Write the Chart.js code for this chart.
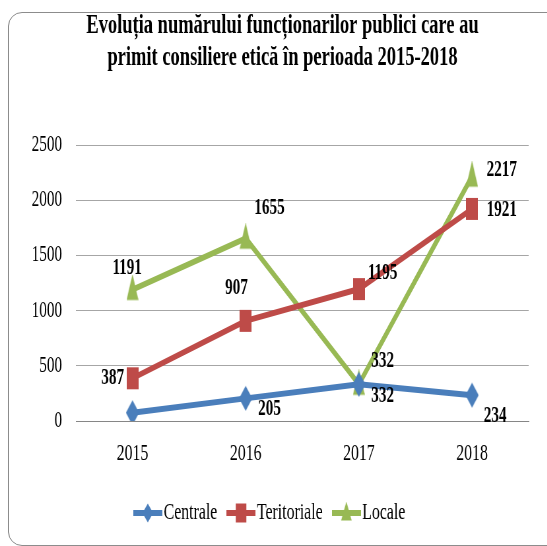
<!DOCTYPE html>
<html>
<head>
<meta charset="utf-8">
<script src="https://cdn.jsdelivr.net/npm/chart.js@4"></script>
<style>
    body { margin: 0; background: #fff; }
    #wrap { position: relative; width: 547px; height: 546px; overflow: hidden; }
    #frame {
        position: absolute; left: 8px; top: 12px; width: 560px; height: 534px;
        border: 1.5px solid #8c8c8c; border-radius: 14px; box-sizing: border-box;
    }
    /* the original picture is squeezed sideways, so draw wide and squeeze */
    canvas { position: absolute; left: 0; top: 0; transform: scaleX(0.66); transform-origin: 0 0; }
</style>
</head>
<body>
<div id="wrap">
    <div id="frame"></div>
    <canvas id="chart" width="829" height="546"></canvas>
</div>
<script>
const years = ['2015', '2016', '2017', '2018'];
const centrale = [75, 205, 332, 234];
const teritoriale = [387, 907, 1195, 1921];
const locale = [1191, 1655, 332, 2217];
const yTicks = [0, 500, 1000, 1500, 2000, 2500];
const titleLines = ['Evoluția numărului funcționarilor publici care au', 'primit consiliere etică în perioada 2015-2018'];
const seriesNames = ['Centrale', 'Teritoriale', 'Locale'];

//which points get a value label (the 2015 Centrale point has none in the picture)
const showLabel = [
    [false, true, true, true],
    [true, true, true, true],
    [true, true, true, true]
];
//label offsets from the point, canvas pixels
const labelOffsets = [
    [[0, 0], [36, 11], [36, 12], [35, 21]],
    [[-30, 0], [-14, -33], [36, -16], [45, 1]],
    [[-8, -21], [36, -30], [36, -23], [45, -6]]
];

const colors = ['#4a7ebb', '#be4b48', '#98b954'];
const shapes = ['diamond', 'square', 'triangle'];
const serif = '"Liberation Serif", "Times New Roman", serif';

//marker pictures, tall and narrow like the original
function drawShape(g, shape, cx, cy, w, h) {
    g.beginPath();
    if (shape === 'diamond') {
        g.moveTo(cx, cy - h / 2); g.lineTo(cx + w / 2, cy); g.lineTo(cx, cy + h / 2); g.lineTo(cx - w / 2, cy);
    } else if (shape === 'square') {
        g.rect(cx - w / 2, cy - h / 2, w, h);
    } else {
        g.moveTo(cx, cy - h * 0.6); g.lineTo(cx + w / 2, cy + h * 0.4); g.lineTo(cx - w / 2, cy + h * 0.4);
    }
    g.closePath();
    g.fill();
}

function markerImage(color, shape) {
    const sizes = { diamond: [20, 25], square: [18, 22], triangle: [18, 26] };
    const [w, h] = sizes[shape];
    const c = document.createElement('canvas');
    c.width = w; c.height = h + 4;
    const g = c.getContext('2d');
    g.fillStyle = color;
    drawShape(g, shape, w / 2, (h + 4) / 2, w, h);
    return c;
}

function legendIcon(color, shape) {
    const c = document.createElement('canvas');
    c.width = 44; c.height = 22;
    const g = c.getContext('2d');
    g.strokeStyle = color;
    g.fillStyle = color;
    g.lineWidth = 6;
    g.beginPath(); g.moveTo(0, 11); g.lineTo(44, 11); g.stroke();
    drawShape(g, shape, 22, 11, 16, 19);
    return c;
}

const titleDraw = {
    id: 'titleDraw',
    afterDraw(chart) {
        const ctx = chart.ctx;
        ctx.save();
        ctx.font = 'bold 28px ' + serif;
        ctx.fillStyle = '#000';
        ctx.textAlign = 'center';
        ctx.textBaseline = 'middle';
        ctx.fillText(titleLines[0], 428, 26);
        ctx.fillText(titleLines[1], 428, 58);
        ctx.restore();
    }
};

const valueLabels = {
    id: 'valueLabels',
    afterDatasetsDraw(chart) {
        const ctx = chart.ctx;
        ctx.save();
        ctx.font = 'bold 23px ' + serif;
        ctx.fillStyle = '#000';
        ctx.textAlign = 'center';
        ctx.textBaseline = 'middle';
        chart.data.datasets.forEach((ds, i) => {
            chart.getDatasetMeta(i).data.forEach((pt, j) => {
                if (!showLabel[i][j]) return;
                const off = labelOffsets[i][j];
                ctx.fillText(String(ds.data[j]), pt.x + off[0], pt.y + off[1]);
            });
        });
        ctx.restore();
    }
};

const seriesData = [centrale, teritoriale, locale];

const ctx = document.getElementById('chart').getContext('2d');
new Chart(ctx, {
    type: 'line',
    data: {
        labels: years,
        datasets: seriesData.map((d, i) => ({
            label: seriesNames[i],
            data: d,
            borderColor: colors[i],
            backgroundColor: colors[i],
            borderWidth: 6,
            pointStyle: markerImage(colors[i], shapes[i]),
            tension: 0
        }))
    },
    options: {
        responsive: false,
        animation: false,
        layout: { padding: { left: 25, right: 28, top: 145, bottom: 11 } },
        plugins: {
            title: { display: false },
            legend: {
                position: 'bottom',
                labels: {
                    color: '#000',
                    font: { family: serif, size: 24 },
                    usePointStyle: true,
                    padding: 24,
                    generateLabels(chart) {
                        return chart.data.datasets.map((ds, i) => ({
                            text: ds.label,
                            pointStyle: legendIcon(colors[i], shapes[i]),
                            fillStyle: colors[i],
                            strokeStyle: colors[i],
                            lineWidth: 0,
                            hidden: false,
                            datasetIndex: i
                        }));
                    }
                }
            },
            tooltip: { enabled: false }
        },
        scales: {
            x: {
                offset: true,
                grid: { display: false, drawTicks: false },
                border: { color: '#868686', width: 1 },
                ticks: { color: '#000', font: { family: serif, size: 24 }, padding: 18 },
                afterFit(scale) { scale.height = 56; }
            },
            y: {
                min: 0,
                max: 2500,
                afterBuildTicks(scale) { scale.ticks = yTicks.map(v => ({ value: v })); },
                afterFit(scale) { scale.width = 90; },
                grid: { color: '#a6a6a6', drawTicks: false },
                border: { display: false },
                ticks: {
                    color: '#000',
                    font: { family: serif, size: 23 },
                    padding: 21,
                    callback: v => String(v)
                }
            }
        }
    },
    plugins: [valueLabels, titleDraw]
});
</script>
</body>
</html>
